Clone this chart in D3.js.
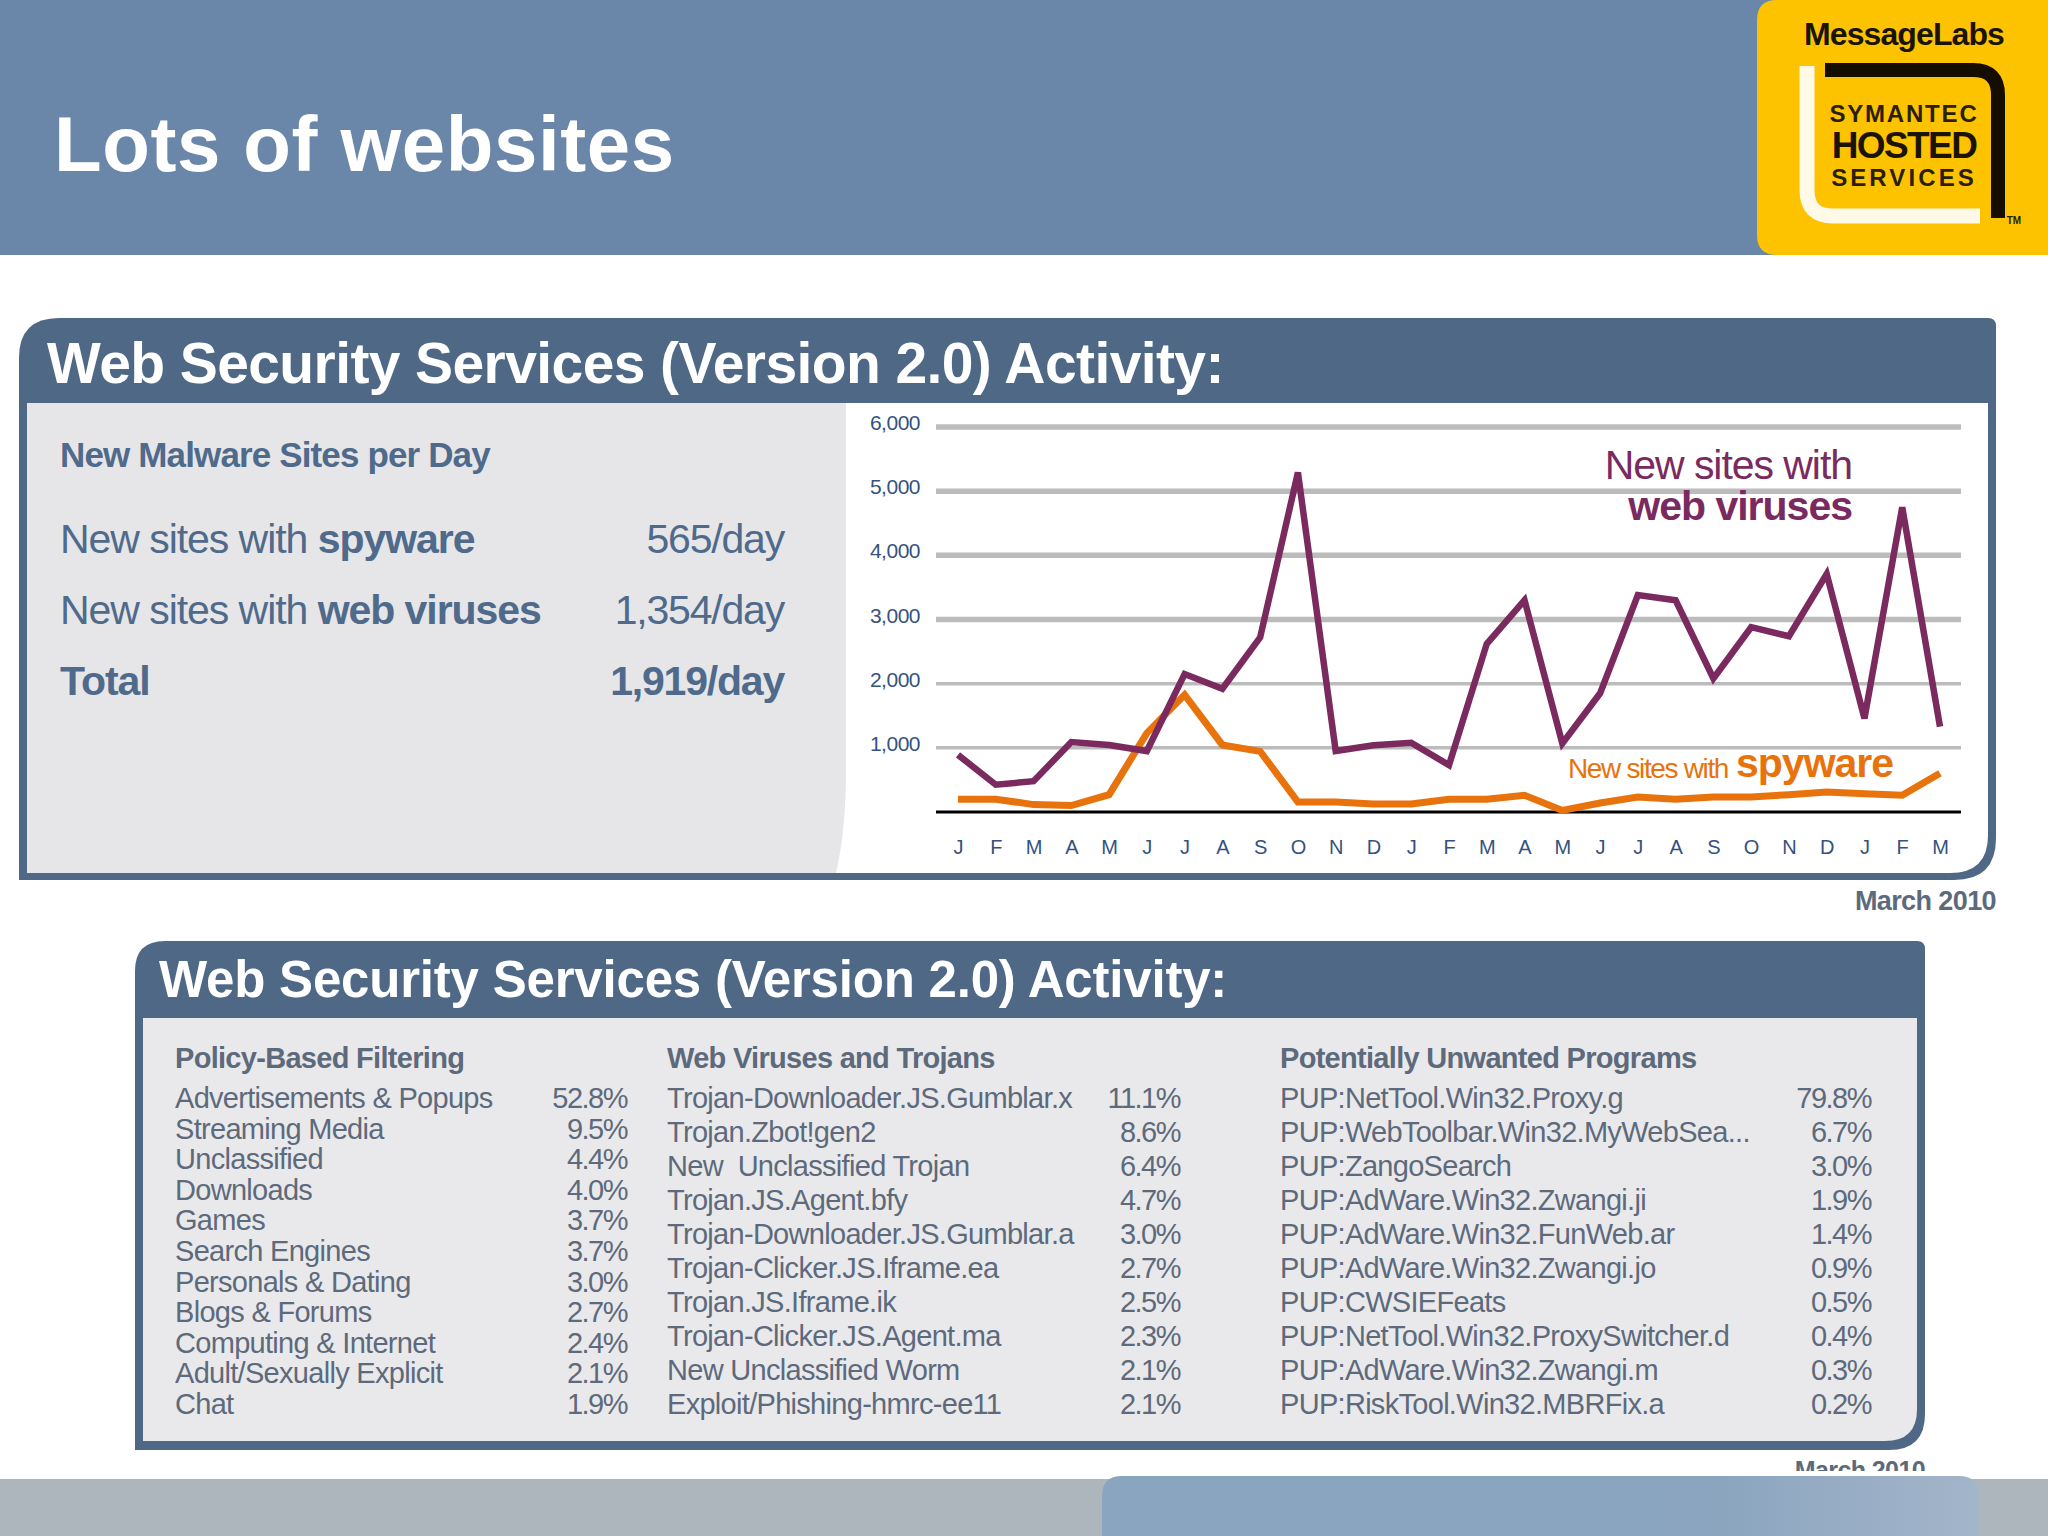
<!DOCTYPE html>
<html>
<head>
<meta charset="utf-8">
<title>Lots of websites</title>
<script src="https://cdn.jsdelivr.net/npm/d3@7"></script>
<style>
  html, body { margin: 0; padding: 0; background: #fff; }
  svg { display: block; }
  text { font-family: "Liberation Sans", Arial, sans-serif; }
</style>
</head>
<body>
<svg id="svg" width="2048" height="1536"></svg>
<script>
// chart data
const months = ['J','F','M','A','M','J','J','A','S','O','N','D','J','F','M','A','M','J','J','A','S','O','N','D','J','F','M']
const webViruses = [890,425,480,1090,1045,950,2150,1920,2720,5290,950,1040,1080,730,2620,3300,1070,1850,3380,3300,2080,2880,2740,3710,1460,4750,1330]
const spyware = [200,200,115,100,270,1230,1825,1045,945,155,155,125,125,200,200,260,25,140,235,200,235,235,270,310,285,260,605]
const yTicks = [1000,2000,3000,4000,5000,6000]

// per day table
const perDayLabels = [['New sites with ','spyware'],['New sites with ','web viruses'],['','Total']]
const perDayValues = ['565/day','1,354/day','1,919/day']

// activity table
const policyNames = ['Advertisements & Popups','Streaming Media','Unclassified','Downloads','Games','Search Engines','Personals & Dating','Blogs & Forums','Computing & Internet','Adult/Sexually Explicit','Chat']
const policyValues = ['52.8%','9.5%','4.4%','4.0%','3.7%','3.7%','3.0%','2.7%','2.4%','2.1%','1.9%']
const virusNames = ['Trojan-Downloader.JS.Gumblar.x','Trojan.Zbot!gen2','New  Unclassified Trojan','Trojan.JS.Agent.bfy','Trojan-Downloader.JS.Gumblar.a','Trojan-Clicker.JS.Iframe.ea','Trojan.JS.Iframe.ik','Trojan-Clicker.JS.Agent.ma','New Unclassified Worm','Exploit/Phishing-hmrc-ee11']
const virusValues = ['11.1%','8.6%','6.4%','4.7%','3.0%','2.7%','2.5%','2.3%','2.1%','2.1%']
const pupNames = ['PUP:NetTool.Win32.Proxy.g','PUP:WebToolbar.Win32.MyWebSea...','PUP:ZangoSearch','PUP:AdWare.Win32.Zwangi.ji','PUP:AdWare.Win32.FunWeb.ar','PUP:AdWare.Win32.Zwangi.jo','PUP:CWSIEFeats','PUP:NetTool.Win32.ProxySwitcher.d','PUP:AdWare.Win32.Zwangi.m','PUP:RiskTool.Win32.MBRFix.a']
const pupValues = ['79.8%','6.7%','3.0%','1.9%','1.4%','0.9%','0.5%','0.4%','0.3%','0.2%']

const PANEL_BLUE = '#4e6885'
const VIRUS_COLOR = '#7a2a5e'
const SPY_COLOR = '#e8730c'
const TEXT_BLUE = '#4f6a8b'
const TEXT_GREY = '#5d6a7c'

const svg = d3.select('#svg')

function txt(parent, x, y, s, o = {}) {
    return parent.append('text')
        .attr('x', x).attr('y', y)
        .attr('font-size', o.size || 20)
        .attr('font-weight', o.weight || 'normal')
        .attr('fill', o.fill || '#000')
        .attr('text-anchor', o.anchor || 'start')
        .attr('letter-spacing', o.ls || 0)
        .style('white-space', 'pre')
        .text(s)
}

// rounded box: top left big, top right small, bottom right big, bottom left square
function boxPath(x0, y0, x1, y1, rTL, rTR, rBR) {
    const p = d3.path()
    p.moveTo(x0, y1)
    p.lineTo(x0, y0 + rTL)
    p.quadraticCurveTo(x0, y0, x0 + rTL, y0)
    p.lineTo(x1 - rTR, y0)
    p.quadraticCurveTo(x1, y0, x1, y0 + rTR)
    p.lineTo(x1, y1 - rBR)
    p.quadraticCurveTo(x1, y1, x1 - rBR, y1)
    p.closePath()
    return p.toString()
}

// page header
svg.append('rect').attr('width', 2048).attr('height', 255).attr('fill', '#6a86a8')
txt(svg, 54, 171, 'Lots of websites', { size: 78, weight: 'bold', fill: '#fff', ls: 0.6 })

// logo
const logo = svg.append('g')
logo.append('path').attr('d', 'M2048 0H1777Q1757 0 1757 20V235Q1757 255 1777 255H2048Z').attr('fill', '#fdc300')
logo.append('path').attr('fill', 'none').attr('stroke', '#fff9e8').attr('stroke-width', 15)
    .attr('d', 'M1807 66V190Q1807 216 1833 216H1980')
logo.append('path').attr('fill', 'none').attr('stroke', '#140d00').attr('stroke-width', 14)
    .attr('d', 'M1825 70H1973Q1998 70 1998 95V218')
txt(logo, 1904, 45, 'MessageLabs', { size: 32, weight: 'bold', fill: '#1b1405', anchor: 'middle', ls: -0.9 })
txt(logo, 1904, 122, 'SYMANTEC', { size: 24, weight: 'bold', fill: '#2a1f05', anchor: 'middle', ls: 1.8 })
txt(logo, 1904, 158, 'HOSTED', { size: 37, weight: 'bold', fill: '#1b1405', anchor: 'middle', ls: -1.6 })
txt(logo, 1904, 186, 'SERVICES', { size: 24, weight: 'bold', fill: '#2a1f05', anchor: 'middle', ls: 3.1 })
txt(logo, 2014, 224, 'TM', { size: 10, weight: 'bold', fill: '#2a1f05', anchor: 'middle' })

// first panel
svg.append('path').attr('d', boxPath(19, 318, 1996, 880, 40, 8, 42)).attr('fill', PANEL_BLUE)
svg.append('path').attr('d', boxPath(27, 403, 1988, 873, 0, 0, 38)).attr('fill', '#fff')
svg.append('path').attr('fill', '#e6e6e8')
    .attr('d', 'M27 403H846V770Q846 830 836 873H27Z')
txt(svg, 47, 383, 'Web Security Services (Version 2.0) Activity:', { size: 57, weight: 'bold', fill: '#fff', ls: -0.6 })

txt(svg, 60, 467, 'New Malware Sites per Day', { size: 35, weight: 'bold', fill: TEXT_BLUE, ls: -0.86 })
const rowY = d3.scaleLinear().domain([0, 2]).range([553, 695])
perDayLabels.forEach((d, i) => {
    const t = txt(svg, 60, rowY(i), d[0], { size: 41, fill: TEXT_BLUE, ls: -1.05 })
    t.append('tspan').attr('font-weight', 'bold').text(d[1])
    txt(svg, 784, rowY(i), perDayValues[i], { size: 41, fill: TEXT_BLUE, anchor: 'end', ls: -1.2, weight: i == 2 ? 'bold' : 'normal' })
})

// line chart
const x = d3.scalePoint().domain(d3.range(months.length)).range([958, 1940])
const y = d3.scaleLinear().domain([0, 6000]).range([812, 427])
const plot = svg.append('g')

plot.selectAll('line.grid').data(yTicks).join('line')
    .attr('class', 'grid')
    .attr('x1', 936).attr('x2', 1961)
    .attr('y1', d => y(d)).attr('y2', d => y(d))
    .attr('stroke', '#bcbcbc')
    .attr('stroke-width', d => d >= 3000 ? 5.5 : 3.5)
plot.append('line').attr('x1', 936).attr('x2', 1961).attr('y1', y(0)).attr('y2', y(0))
    .attr('stroke', '#000').attr('stroke-width', 3)

const yAxis = plot.append('g').attr('transform', 'translate(920,0)')
    .call(d3.axisLeft(y).tickValues(yTicks).tickSize(0).tickPadding(0).tickFormat(d3.format(',')))
yAxis.select('.domain').remove()
yAxis.selectAll('text').attr('font-size', 21).attr('letter-spacing', -0.5).attr('fill', '#34527f')
    .attr('font-family', '"Liberation Sans", Arial, sans-serif').attr('dy', '0.12em')

const xAxis = plot.append('g').attr('transform', 'translate(0,854)')
    .call(d3.axisBottom(x).tickSize(0).tickPadding(0).tickFormat(i => months[i]))
xAxis.select('.domain').remove()
xAxis.selectAll('text').attr('font-size', 20).attr('fill', '#34527f')
    .attr('font-family', '"Liberation Sans", Arial, sans-serif').attr('dy', 0)

const line = d3.line().x((d, i) => x(i)).y(d => y(d))
plot.append('path').datum(spyware).attr('d', line).attr('fill', 'none')
    .attr('stroke', SPY_COLOR).attr('stroke-width', 7).attr('stroke-linejoin', 'miter')
plot.append('path').datum(webViruses).attr('d', line).attr('fill', 'none')
    .attr('stroke', VIRUS_COLOR).attr('stroke-width', 6.5).attr('stroke-linejoin', 'miter')

txt(svg, 1852, 479, 'New sites with', { size: 41, fill: VIRUS_COLOR, anchor: 'end', ls: -1.05 })
txt(svg, 1852, 520, 'web viruses', { size: 41, weight: 'bold', fill: VIRUS_COLOR, anchor: 'end', ls: -1 })
txt(svg, 1568, 778, 'New sites with', { size: 28, fill: SPY_COLOR, ls: -1.35 })
txt(svg, 1736, 777, 'spyware', { size: 41, weight: 'bold', fill: SPY_COLOR, ls: -1 })
txt(svg, 1996, 910, 'March 2010', { size: 27, weight: 'bold', fill: TEXT_GREY, anchor: 'end', ls: -0.6 })

// second panel
svg.append('path').attr('d', boxPath(135, 941, 1925, 1450, 30, 8, 36)).attr('fill', PANEL_BLUE)
svg.append('path').attr('d', boxPath(143, 1018, 1917, 1441, 0, 0, 32)).attr('fill', '#e9e9eb')
txt(svg, 159, 997, 'Web Security Services (Version 2.0) Activity:', { size: 51, weight: 'bold', fill: '#fff', ls: -0.2 })
txt(svg, 1925, 1479, 'March 2010', { size: 25, weight: 'bold', fill: TEXT_GREY, anchor: 'end', ls: -0.6 })
svg.append('rect').attr('x', 1700).attr('y', 1471).attr('width', 300).attr('height', 8).attr('fill', '#fff')

const columns = [
    { head: 'Policy-Based Filtering', names: policyNames, values: policyValues, left: 175, right: 627 },
    { head: 'Web Viruses and Trojans', names: virusNames, values: virusValues, left: 667, right: 1180 },
    { head: 'Potentially Unwanted Programs', names: pupNames, values: pupValues, left: 1280, right: 1871 }
]
columns.forEach(c => {
    const rows = d3.scaleLinear().domain([0, c.names.length - 1]).range([1108, 1414])
    txt(svg, c.left, 1068, c.head, { size: 29, weight: 'bold', fill: TEXT_GREY, ls: -0.7 })
    svg.append('g').selectAll('text').data(c.names).join('text')
        .attr('x', c.left).attr('y', (d, i) => rows(i))
        .attr('font-size', 29).attr('letter-spacing', -0.7).attr('fill', TEXT_GREY)
        .style('white-space', 'pre').text(d => d)
    svg.append('g').selectAll('text').data(c.values).join('text')
        .attr('x', c.right).attr('y', (d, i) => rows(i))
        .attr('text-anchor', 'end')
        .attr('font-size', 29).attr('letter-spacing', -1.5).attr('fill', TEXT_GREY)
        .text(d => d)
})

// footer
const defs = svg.append('defs')
const grad = defs.append('linearGradient').attr('id', 'footBox')
grad.append('stop').attr('offset', '0%').attr('stop-color', '#8aa5bf')
grad.append('stop').attr('offset', '70%').attr('stop-color', '#8ba5bf')
grad.append('stop').attr('offset', '100%').attr('stop-color', '#a3b5ca')
svg.append('rect').attr('y', 1479).attr('width', 2048).attr('height', 57).attr('fill', '#aeb6bd')
svg.append('path').attr('d', 'M1102 1536V1496Q1102 1476 1122 1476H1959Q1979 1476 1979 1496V1536Z').attr('fill', 'url(#footBox)')
</script>
</body>
</html>
